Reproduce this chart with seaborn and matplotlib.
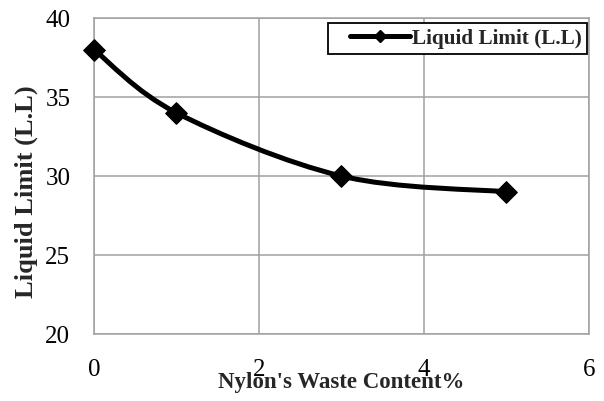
import numpy as np
import matplotlib
matplotlib.use("Agg")
import matplotlib.pyplot as plt
import seaborn as sns
from matplotlib.path import Path
from matplotlib.patches import PathPatch
from matplotlib.lines import Line2D
from matplotlib.legend_handler import HandlerLine2D

# data
nylon_content = [0, 1, 3, 5]
liquid_limit = [38, 34, 30, 29]
series_name = "Liquid Limit (L.L)"
x_ticks = [0, 2, 4, 6]
y_ticks = [20, 25, 30, 35, 40]


# Excel-like smoothed line: cubic Bezier segments through the points
def smooth_path(xs, ys):
    p = np.column_stack([xs, ys]).astype(float)
    pts = np.vstack([p[0], p, p[-1]])
    verts = [tuple(p[0])]
    codes = [Path.MOVETO]
    for i in range(1, len(pts) - 2):
        c1 = pts[i] + (pts[i + 1] - pts[i - 1]) / 6.0
        c2 = pts[i + 1] - (pts[i + 2] - pts[i]) / 6.0
        verts += [tuple(c1), tuple(c2), tuple(pts[i + 1])]
        codes += [Path.CURVE4] * 3
    return Path(verts, codes)


sns.set_theme(style="whitegrid")
plt.rcParams['font.family'] = ['Liberation Serif', 'DejaVu Serif']

fig = plt.figure(figsize=(6.04, 4.01), dpi=100)
ax = fig.add_axes([0.1556, 0.167, 0.8194, 0.788])

ax.add_patch(PathPatch(smooth_path(nylon_content, liquid_limit), fill=False,
                       edgecolor="black", lw=3.6, capstyle="round", zorder=3))
sns.scatterplot(x=nylon_content, y=liquid_limit, marker="D", s=120,
                color="black", edgecolor="black", ax=ax, zorder=4, clip_on=False)

ax.set_xlim(0, 6)
ax.set_ylim(20, 40)
ax.set_xticks(x_ticks)
ax.set_yticks(y_ticks)
ax.grid(True, color="#a0a0a0", lw=1.1)
for s in ax.spines.values():
    s.set_color("#a0a0a0")
    s.set_linewidth(1.1)
ax.tick_params(axis="x", labelsize=18, pad=18, length=0, colors="black")
ax.tick_params(axis="y", labelsize=18, pad=17, length=0, colors="black")

ax.set_xlabel("Nylon's Waste Content%", fontsize=16.5, fontweight="bold")
ax.xaxis.set_label_coords(0.5, -0.12)
ax.set_ylabel(series_name, fontsize=19, fontweight="bold")
ax.yaxis.set_label_coords(-0.113, 0.45)

handle = Line2D([], [], color="black", lw=3.6, marker="D", markersize=6)
leg = ax.legend([handle], [series_name], loc="upper right",
                bbox_to_anchor=(1.0, 0.99), frameon=True, fancybox=False,
                prop={"weight": "bold", "size": 15.3}, handlelength=3.6,
                handletextpad=0.1, borderpad=0.25, borderaxespad=0.1,
                handler_map={Line2D: HandlerLine2D(xpad=0.8)})
leg.get_frame().set_edgecolor("black")
leg.get_frame().set_linewidth(1.3)
leg.get_frame().set_alpha(1)

fig.savefig("out.png", dpi=100)
